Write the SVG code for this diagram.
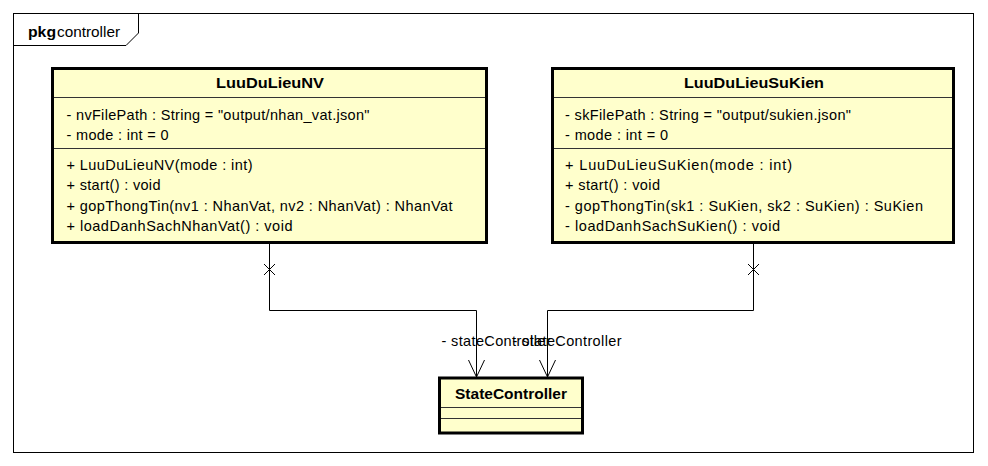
<svg xmlns="http://www.w3.org/2000/svg" width="988" height="466" viewBox="0 0 988 466">
  <style>
    text { font-family: "Liberation Sans", Arial, sans-serif; fill: #000; }
    .t { font-size: 14.5px; }
    .title { font-size: 15px; font-weight: bold; }
    .box { fill: #FFFFCC; stroke: #000; stroke-width: 3; }
    .sep { stroke: #333; stroke-width: 1; fill: none; }
    .frame { fill: #fff; stroke: #000; stroke-width: 1; }
    .conn { fill: none; stroke: #000; stroke-width: 1; }
  </style>
  <defs>
    <!-- open arrowhead, drawn along +x so orient="auto" follows the line -->
    <marker id="open" markerWidth="20" markerHeight="20" refX="18" refY="9" orient="auto" markerUnits="userSpaceOnUse" viewBox="0 0 20 18">
      <path d="M1 1 L18 9 L1 17" fill="none" stroke="#000" stroke-width="1"/>
    </marker>
  </defs>
  <rect width="988" height="466" fill="#fff"/>

  <!-- package frame -->
  <g id="pkg-controller">
    <rect class="frame" x="13.5" y="13.5" width="960" height="439"/>
    <path class="conn" d="M13.5 45.5 H126 L138.5 33 V13.5"/>
    <text x="28" y="37" font-size="14" font-weight="bold" textLength="28" lengthAdjust="spacingAndGlyphs">pkg</text>
    <text x="57" y="37" class="t" textLength="63" lengthAdjust="spacingAndGlyphs">controller</text>
  </g>

  <!-- class LuuDuLieuNV -->
  <g id="LuuDuLieuNV">
    <rect class="box" x="52.5" y="68.5" width="434" height="174"/>
    <line class="sep" x1="54" y1="97.5" x2="485" y2="97.5"/>
    <line class="sep" x1="54" y1="148.5" x2="485" y2="148.5"/>
    <text class="title" x="270" y="87.5" text-anchor="middle" textLength="108" lengthAdjust="spacingAndGlyphs">LuuDuLieuNV</text>
    <text class="t" x="66.5" y="119.5" textLength="303" lengthAdjust="spacing">- nvFilePath : String = "output/nhan_vat.json"</text>
    <text class="t" x="66.5" y="139.5" textLength="102" lengthAdjust="spacing">- mode : int = 0</text>
    <text class="t" x="66.5" y="169.5" textLength="186" lengthAdjust="spacing">+ LuuDuLieuNV(mode : int)</text>
    <text class="t" x="66.5" y="190" textLength="94" lengthAdjust="spacing">+ start() : void</text>
    <text class="t" x="66.5" y="210.5" textLength="386" lengthAdjust="spacing">+ gopThongTin(nv1 : NhanVat, nv2 : NhanVat) : NhanVat</text>
    <text class="t" x="66.5" y="231" textLength="226" lengthAdjust="spacing">+ loadDanhSachNhanVat() : void</text>
  </g>

  <!-- class LuuDuLieuSuKien -->
  <g id="LuuDuLieuSuKien">
    <rect class="box" x="552.5" y="68.5" width="401" height="174"/>
    <line class="sep" x1="554" y1="97.5" x2="952" y2="97.5"/>
    <line class="sep" x1="554" y1="148.5" x2="952" y2="148.5"/>
    <text class="title" x="754" y="87.5" text-anchor="middle" textLength="140" lengthAdjust="spacingAndGlyphs">LuuDuLieuSuKien</text>
    <text class="t" x="565" y="119.5" textLength="286" lengthAdjust="spacing">- skFilePath : String = "output/sukien.json"</text>
    <text class="t" x="565" y="139.5" textLength="103" lengthAdjust="spacing">- mode : int = 0</text>
    <text class="t" x="565" y="169.5" textLength="227" lengthAdjust="spacing">+ LuuDuLieuSuKien(mode : int)</text>
    <text class="t" x="565" y="190" textLength="95" lengthAdjust="spacing">+ start() : void</text>
    <text class="t" x="565" y="210.5" textLength="358" lengthAdjust="spacing">- gopThongTin(sk1 : SuKien, sk2 : SuKien) : SuKien</text>
    <text class="t" x="565" y="231" textLength="215" lengthAdjust="spacing">- loadDanhSachSuKien() : void</text>
  </g>

  <!-- class StateController -->
  <g id="StateController">
    <rect class="box" x="439.5" y="378" width="143" height="55"/>
    <line class="sep" x1="441" y1="407.5" x2="581" y2="407.5"/>
    <line class="sep" x1="441" y1="418.5" x2="581" y2="418.5"/>
    <text class="title" x="511" y="398.5" text-anchor="middle" textLength="112" lengthAdjust="spacingAndGlyphs">StateController</text>
  </g>

  <!-- associations: owned end marked with a cross, navigable end with an open arrow -->
  <g id="connectors">
    <path class="conn" d="M269.5 244 V310.5 H476.5 V377" marker-end="url(#open)"/>
    <path class="conn" d="M264 264 L275 275 M275 264 L264 275"/>
    <text class="t" x="441.5" y="346" textLength="109" lengthAdjust="spacing">- stateController</text>

    <path class="conn" d="M753.5 244 V310.5 H547.5 V377" marker-end="url(#open)"/>
    <path class="conn" d="M748 264 L759 275 M759 264 L748 275"/>
    <text class="t" x="512.5" y="346" textLength="109" lengthAdjust="spacing">- stateController</text>
  </g>
</svg>
